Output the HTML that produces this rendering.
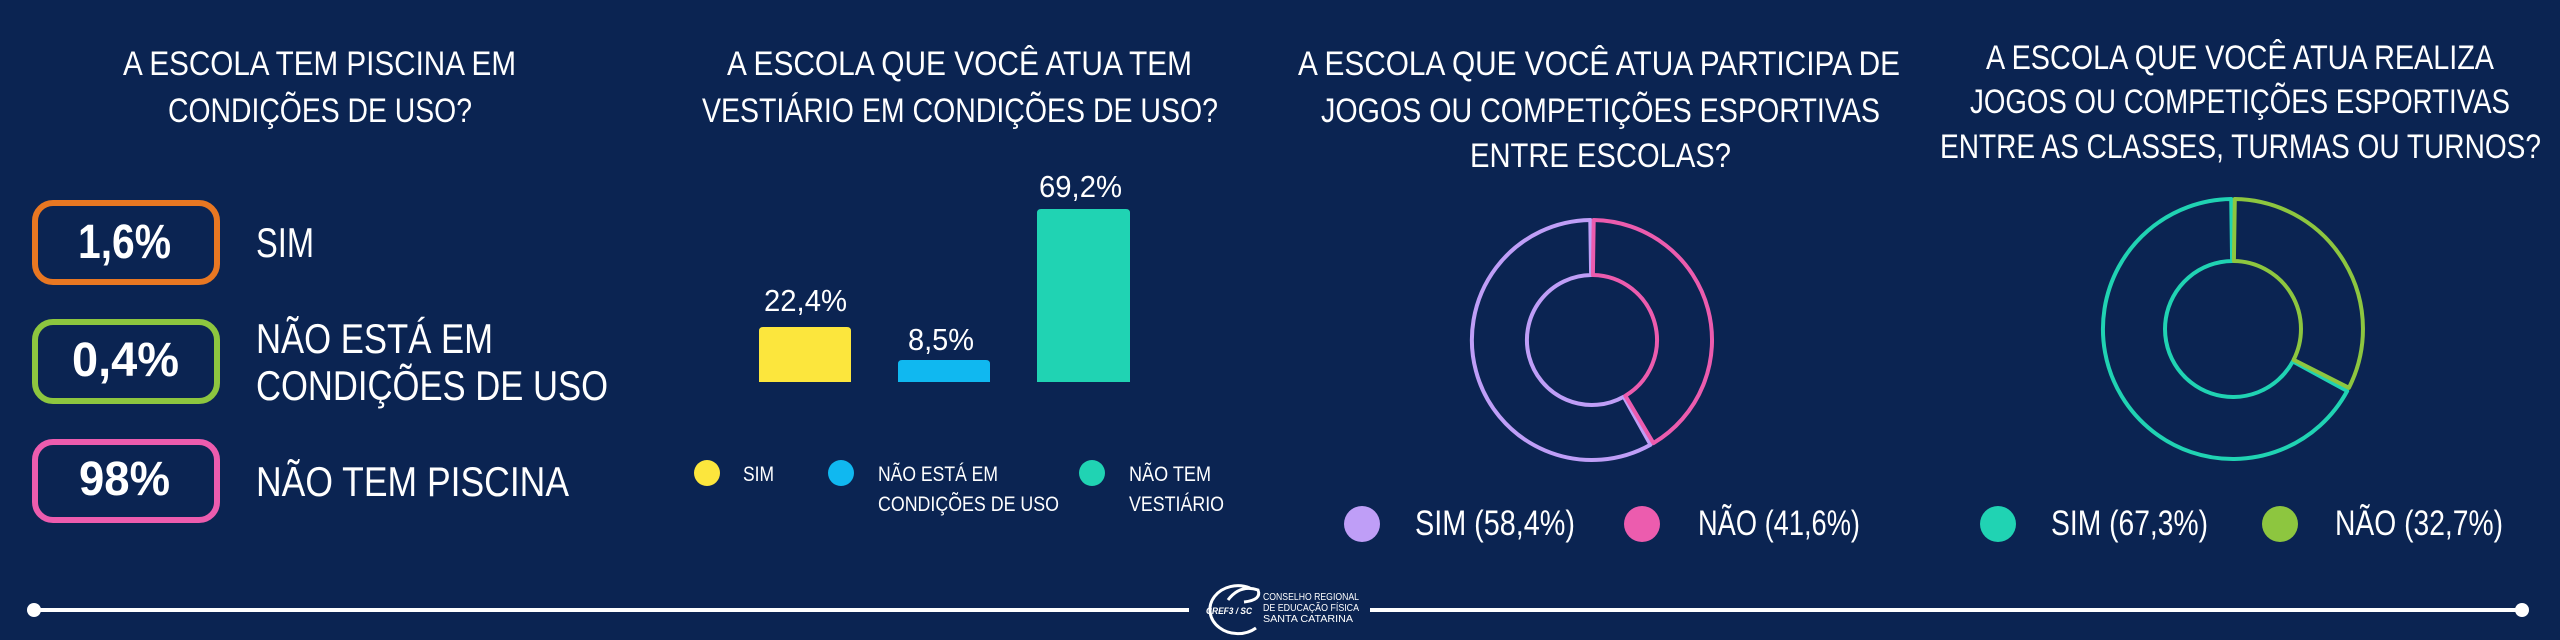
<!DOCTYPE html>
<html><head><meta charset="utf-8"><style>
html,body{margin:0;padding:0;background:#0b2452;}
svg{display:block}
text{font-family:"Liberation Sans",sans-serif;fill:#fff}
</style></head><body>
<svg width="2560" height="640" viewBox="0 0 2560 640" xmlns="http://www.w3.org/2000/svg">
<rect width="2560" height="640" fill="#0b2452"/>
<g font-size="34" lengthAdjust="spacingAndGlyphs">
<text x="123" y="75" textLength="393" lengthAdjust="spacingAndGlyphs">A ESCOLA TEM PISCINA EM</text>
<text x="168" y="122" textLength="304" lengthAdjust="spacingAndGlyphs">CONDIÇÕES DE USO?</text>
<text x="727" y="75" textLength="465" lengthAdjust="spacingAndGlyphs">A  ESCOLA QUE VOCÊ ATUA TEM</text>
<text x="702" y="122" textLength="516" lengthAdjust="spacingAndGlyphs">VESTIÁRIO EM CONDIÇÕES DE USO?</text>
<text x="1298" y="75" textLength="602" lengthAdjust="spacingAndGlyphs">A  ESCOLA QUE VOCÊ ATUA PARTICIPA DE</text>
<text x="1321" y="122" textLength="559" lengthAdjust="spacingAndGlyphs">JOGOS OU COMPETIÇÕES ESPORTIVAS</text>
<text x="1470" y="167" textLength="261" lengthAdjust="spacingAndGlyphs">ENTRE ESCOLAS?</text>
<text x="1986" y="69" textLength="508" lengthAdjust="spacingAndGlyphs">A  ESCOLA QUE VOCÊ ATUA REALIZA</text>
<text x="1970" y="113" textLength="540" lengthAdjust="spacingAndGlyphs">JOGOS OU COMPETIÇÕES ESPORTIVAS</text>
<text x="1940" y="158" textLength="601" lengthAdjust="spacingAndGlyphs">ENTRE AS CLASSES, TURMAS OU TURNOS?</text>
</g>
<!-- boxes -->
<rect x="35" y="203" width="182" height="79" rx="18" fill="none" stroke="#e87722" stroke-width="6"/>
<rect x="35" y="322" width="182" height="79" rx="18" fill="none" stroke="#8dc63f" stroke-width="6"/>
<rect x="35" y="442" width="182" height="78" rx="18" fill="none" stroke="#ec5cae" stroke-width="6"/>
<g font-size="48" font-weight="bold">
<text x="78" y="258" textLength="93" lengthAdjust="spacingAndGlyphs">1,6%</text>
<text x="72" y="376" textLength="107" lengthAdjust="spacingAndGlyphs">0,4%</text>
<text x="79" y="495" textLength="91" lengthAdjust="spacingAndGlyphs">98%</text>
</g>
<g font-size="42">
<text x="256" y="257" textLength="58" lengthAdjust="spacingAndGlyphs">SIM</text>
<text x="256" y="353" textLength="237" lengthAdjust="spacingAndGlyphs">NÃO ESTÁ EM</text>
<text x="256" y="400" textLength="352" lengthAdjust="spacingAndGlyphs">CONDIÇÕES DE USO</text>
<text x="256" y="496" textLength="313" lengthAdjust="spacingAndGlyphs">NÃO TEM PISCINA</text>
</g>
<!-- bars -->
<path d="M759,382 V331 Q759,327 763,327 H847 Q851,327 851,331 V382 Z" fill="#fce63d"/>
<path d="M898,382 V364 Q898,360 902,360 H986 Q990,360 990,364 V382 Z" fill="#10b8f0"/>
<path d="M1037,382 V213 Q1037,209 1041,209 H1126 Q1130,209 1130,213 V382 Z" fill="#20d3b3"/>
<g font-size="31">
<text x="764" y="311" textLength="83" lengthAdjust="spacingAndGlyphs">22,4%</text>
<text x="908" y="350" textLength="66" lengthAdjust="spacingAndGlyphs">8,5%</text>
<text x="1039" y="197" textLength="83" lengthAdjust="spacingAndGlyphs">69,2%</text>
</g>
<circle cx="707" cy="473" r="13" fill="#fce63d"/>
<circle cx="841" cy="473" r="13" fill="#10b8f0"/>
<circle cx="1092" cy="473" r="13" fill="#20d3b3"/>
<g font-size="21">
<text x="743" y="481" textLength="31" lengthAdjust="spacingAndGlyphs">SIM</text>
<text x="878" y="481" textLength="120" lengthAdjust="spacingAndGlyphs">NÃO ESTÁ EM</text>
<text x="878" y="511" textLength="181" lengthAdjust="spacingAndGlyphs">CONDIÇÕES DE USO</text>
<text x="1129" y="481" textLength="82" lengthAdjust="spacingAndGlyphs">NÃO TEM</text>
<text x="1129" y="511" textLength="95" lengthAdjust="spacingAndGlyphs">VESTIÁRIO</text>
</g>
<!-- donuts -->
<g fill="none" stroke-width="4" stroke-linejoin="round">
<path d="M1650.5,444.7 A120,120 0 1 1 1590.3,220 L1591.1,275 A65,65 0 1 0 1623.7,396.7 Z" stroke="#bf9ef7"/>
<path d="M1593.7,220 A120,120 0 0 1 1653.4,443.1 L1625.3,395.8 A65,65 0 0 0 1592.9,275 Z" stroke="#ec5cae"/>
<path d="M2347.2,391 A130,130 0 1 1 2231.2,199 L2232.1,261 A68,68 0 1 0 2292.8,361.4 Z" stroke="#20d3b3"/>
<path d="M2234.8,199 A130,130 0 0 1 2348.9,387.8 L2293.6,359.8 A68,68 0 0 0 2233.9,261 Z" stroke="#8dc63f"/>
</g>
<circle cx="1362" cy="524" r="18" fill="#bf9ef7"/>
<circle cx="1642" cy="524" r="18" fill="#ec5cae"/>
<circle cx="1998" cy="524" r="18" fill="#20d3b3"/>
<circle cx="2280" cy="524" r="18" fill="#8dc63f"/>
<g font-size="35">
<text x="1415" y="535" textLength="160" lengthAdjust="spacingAndGlyphs">SIM (58,4%)</text>
<text x="1698" y="535" textLength="162" lengthAdjust="spacingAndGlyphs">NÃO (41,6%)</text>
<text x="2051" y="535" textLength="157" lengthAdjust="spacingAndGlyphs">SIM (67,3%)</text>
<text x="2335" y="535" textLength="168" lengthAdjust="spacingAndGlyphs">NÃO (32,7%)</text>
</g>
<!-- footer -->
<line x1="33" y1="610" x2="1189" y2="610" stroke="#fff" stroke-width="4"/>
<circle cx="34" cy="610" r="7" fill="#fff"/>
<line x1="1370" y1="610" x2="2522" y2="610" stroke="#fff" stroke-width="4"/>
<circle cx="2522" cy="610" r="7" fill="#fff"/>
<path d="M1250,588 A28,24 0 1 0 1256,628" fill="none" stroke="#fff" stroke-width="3"/>
<path d="M1228,600 Q1240,584 1258,590 Q1262,600 1244,602" fill="none" stroke="#fff" stroke-width="3"/>
<text x="1206" y="614" font-size="9" font-weight="bold" font-style="italic" textLength="46" lengthAdjust="spacingAndGlyphs">CREF3 / SC</text>
<g font-size="10" fill="#fff">
<text x="1263" y="600" textLength="96" lengthAdjust="spacingAndGlyphs">CONSELHO REGIONAL</text>
<text x="1263" y="611" textLength="96" lengthAdjust="spacingAndGlyphs">DE EDUCAÇÃO FÍSICA</text>
<text x="1263" y="622" textLength="90" lengthAdjust="spacingAndGlyphs">SANTA CATARINA</text>
</g>
</svg>
</body></html>
